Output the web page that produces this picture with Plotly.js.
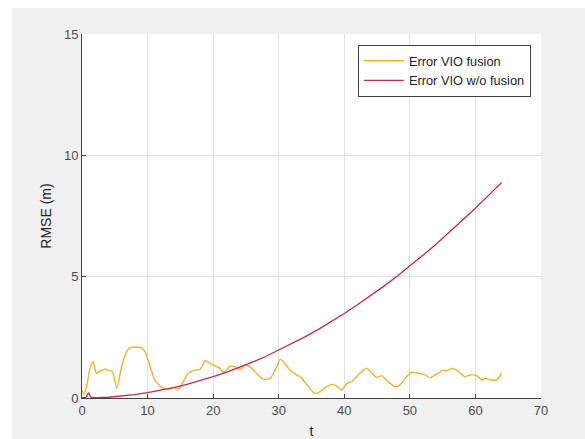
<!DOCTYPE html>
<html>
<head>
<meta charset="utf-8">
<script src="https://cdn.plot.ly/plotly-3.0.1.min.js"></script>
<style>
html,body{margin:0;padding:0;background:#ffffff;width:585px;height:439px;overflow:hidden;}
#chart{position:absolute;left:12px;top:8px;width:573px;height:431px;}
</style>
</head>
<body>
<div id="chart"></div>
<script>
// Yellow series: Error VIO fusion
const tFusion = [0,0.3,0.8,1.2,1.7,2.2,2.7,3.2,3.6,4.0,4.6,5.3,6.05,6.8,7.3,8.0,8.6,9.1,9.6,10.4,11.1,12.15,13.2,13.9,14.7,15.45,16.2,17.2,18.0,18.8,19.3,20.0,21.05,21.55,22.6,23.3,24.1,24.9,25.6,26.6,27.65,28.7,29.7,30.2,30.7,31.7,32.7,33.4,34.3,35.5,36.3,37.3,38.3,38.8,39.6,40.4,41.1,41.9,42.9,43.5,44.2,44.9,45.7,46.7,47.7,48.5,49.5,50.3,51.3,52.3,53.1,54.1,55.1,55.6,56.5,57.4,58.4,59.2,60.2,60.95,61.5,62.5,63.2,64.0];
const eFusion = [0.32,0.15,0.6,1.2,1.5,1.02,1.12,1.15,1.2,1.14,1.1,0.4,1.29,1.91,2.07,2.09,2.09,2.07,1.91,1.29,0.74,0.44,0.36,0.44,0.36,0.67,1.02,1.15,1.18,1.54,1.47,1.36,1.22,1.04,1.32,1.29,1.18,1.36,1.29,1.02,0.77,0.81,1.29,1.59,1.5,1.15,0.95,0.85,0.54,0.19,0.26,0.47,0.56,0.49,0.33,0.6,0.67,0.88,1.15,1.22,1.02,0.85,0.91,0.67,0.47,0.54,0.88,1.06,1.02,0.95,0.84,0.99,1.15,1.12,1.22,1.09,0.88,0.95,0.92,0.74,0.81,0.74,0.74,1.02];

// Red series: Error VIO w/o fusion
const tNoFusion = [0,0.6,1.0,1.3,1.6,2,4,6,8,10,12,14,16,18,20,22,24,26,28,30,32,34,36,38,40,42,44,46,48,50,52,54,56,58,60,62,64];
const eNoFusion = [0,0.02,0.22,0.05,0.02,0.01,0.03,0.08,0.14,0.22,0.31,0.43,0.56,0.71,0.88,1.06,1.26,1.48,1.71,1.97,2.24,2.52,2.82,3.14,3.48,3.84,4.21,4.6,5.01,5.44,5.88,6.34,6.82,7.31,7.82,8.35,8.88];

const legendNames = ['Error VIO fusion','Error VIO w/o fusion'];
const colors = ['#F0B32A','#C2294F'];

const traces = [
  {x:tFusion, y:eFusion, type:'scatter', mode:'lines', name:legendNames[0], line:{color:colors[0], width:1.4, shape:'spline', smoothing:0.6}},
  {x:tNoFusion, y:eNoFusion, type:'scatter', mode:'lines', name:legendNames[1], line:{color:colors[1], width:1.3}}
];

const axisCommon = {
  showgrid:true, gridcolor:'#e3e3e3', gridwidth:1,
  zeroline:false, showline:true, linecolor:'#404040', linewidth:1,
  ticks:'inside', ticklen:4, tickcolor:'#404040',
  tickfont:{family:'Liberation Sans, Arial, sans-serif', size:13, color:'#4d4d4d'},
  mirror:false, automargin:false
};

const layout = {
  width:573, height:431,
  margin:{l:70, r:44, t:26, b:41},
  paper_bgcolor:'#f0f0f0', plot_bgcolor:'#ffffff',
  showlegend:true,
  legend:{x:0.978, y:0.97, xanchor:'right', yanchor:'top', bgcolor:'#ffffff', bordercolor:'#404040', borderwidth:1,
          itemwidth:40, tracegroupgap:0,
          font:{family:'Liberation Sans, Arial, sans-serif', size:12.8, color:'#262626'}},
  xaxis:Object.assign({}, axisCommon, {range:[0,70], dtick:10, tick0:0,
          title:{text:'t', standoff:9, font:{family:'Liberation Sans, Arial, sans-serif', size:14, color:'#262626'}}}),
  yaxis:Object.assign({}, axisCommon, {range:[0,15], dtick:5, tick0:0,
          title:{text:'RMSE (m)', standoff:9, font:{family:'Liberation Sans, Arial, sans-serif', size:14, color:'#262626'}}})
};

Plotly.newPlot('chart', traces, layout, {displayModeBar:false, staticPlot:true});
</script>
</body>
</html>
